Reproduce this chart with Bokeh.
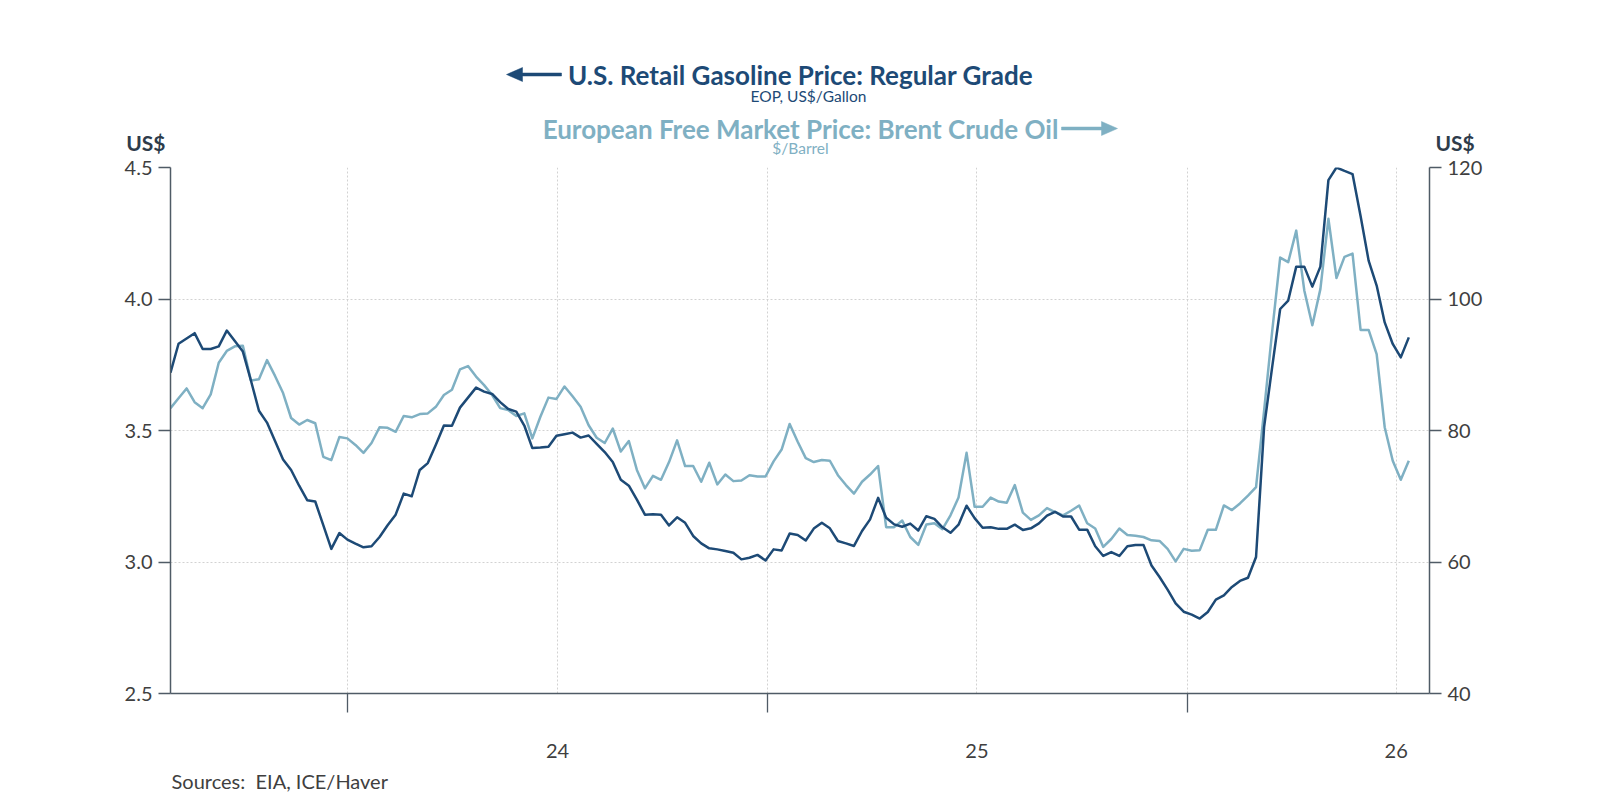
import pandas as pd
from bokeh.plotting import figure
from bokeh.layouts import column
from bokeh.models import (Range1d, LinearAxis, FixedTicker,
                          PrintfTickFormatter, CustomJSTickFormatter)
from bokeh.core.properties import value
from bokeh.embed import file_html
from bokeh.resources import INLINE

# Weekly observations, first week beginning 2023-07-31
first_week = "2023-07-31"

# U.S. retail gasoline price, regular grade (EOP, US$/gallon)
gasoline = [
    3.72, 3.83, 3.85, 3.87, 3.81, 3.81, 3.82, 3.88, 3.84, 3.80,
    3.69, 3.575, 3.53, 3.46, 3.39, 3.35, 3.29, 3.235, 3.23, 3.14,
    3.05, 3.11, 3.085, 3.07, 3.056, 3.06, 3.095, 3.14, 3.18, 3.26,
    3.25, 3.35, 3.376, 3.446, 3.519, 3.518, 3.587, 3.625, 3.663, 3.648,
    3.639, 3.608, 3.582, 3.572, 3.519, 3.433, 3.435, 3.438, 3.48, 3.486,
    3.492, 3.473, 3.481, 3.449, 3.418, 3.38, 3.313, 3.29, 3.237, 3.18,
    3.182, 3.18, 3.139, 3.17, 3.149, 3.099, 3.071, 3.052, 3.048, 3.042,
    3.035, 3.01, 3.016, 3.027, 3.006, 3.048, 3.044, 3.108, 3.103, 3.082,
    3.127, 3.149, 3.128, 3.08, 3.071, 3.061, 3.118, 3.162, 3.244, 3.168,
    3.143, 3.134, 3.146, 3.12, 3.174, 3.164, 3.132, 3.111, 3.142, 3.214,
    3.167, 3.13, 3.132, 3.126, 3.126, 3.142, 3.122, 3.128, 3.147, 3.176,
    3.191, 3.173, 3.173, 3.123, 3.123, 3.06, 3.023, 3.038, 3.023, 3.06,
    3.065, 3.065, 2.987, 2.943, 2.895, 2.843, 2.811, 2.80, 2.785, 2.81,
    2.857, 2.873, 2.905, 2.928, 2.94, 3.019, 3.513, 3.74, 3.962, 3.994,
    4.123, 4.123, 4.047, 4.123, 4.452, 4.50, 4.487, 4.475, 4.316, 4.146,
    4.051, 3.911, 3.829, 3.778, 3.854,
]

# European free market price, Brent crude oil ($/barrel)
brent = [
    83.4, 84.9, 86.4, 84.3, 83.4, 85.5, 90.3, 92.1, 92.8, 92.9,
    87.6, 87.8, 90.7, 88.3, 85.7, 81.9, 80.9, 81.6, 81.1, 76.0,
    75.5, 79.0, 78.8, 77.8, 76.6, 78.1, 80.5, 80.4, 79.8, 82.2,
    82.0, 82.5, 82.6, 83.6, 85.4, 86.2, 89.3, 89.8, 88.2, 86.9,
    85.4, 83.4, 83.1, 82.2, 82.6, 78.8, 82.1, 85.0, 84.8, 86.7,
    85.2, 83.6, 80.8, 78.9, 78.1, 80.3, 76.8, 78.4, 74.0, 71.2,
    73.1, 72.5, 75.2, 78.5, 74.6, 74.6, 72.2, 75.1, 71.8, 73.3,
    72.3, 72.4, 73.2, 73.0, 73.0, 75.3, 77.1, 81.0, 78.3, 75.8,
    75.2, 75.5, 75.4, 73.2, 71.7, 70.4, 72.2, 73.3, 74.6, 65.3,
    65.3, 66.3, 63.8, 62.6, 65.7, 65.9, 65.0, 67.1, 69.8, 76.6,
    68.4, 68.4, 69.8, 69.2, 69.0, 71.7, 67.5, 66.4, 67.1, 68.2,
    67.6, 67.1, 67.8, 68.6, 65.9, 65.1, 62.3, 63.5, 65.1, 64.1,
    64.0, 63.8, 63.3, 63.2, 62.0, 60.1, 62.0, 61.7, 61.8, 64.9,
    64.9, 68.6, 67.9, 68.9, 70.1, 71.4, 83.0, 95.0, 106.3, 105.6,
    110.4, 101.3, 96.0, 101.5, 112.2, 103.2, 106.4, 106.9, 95.3, 95.3,
    91.6, 80.5, 75.4, 72.5, 75.4,
]

# Axis definitions
year_starts = ["2024-01-01", "2025-01-01", "2026-01-01"]
year_mids = ["2024-07-02", "2025-07-02", "2026-07-02"]
year_labels = ["24", "25", "26"]
gas_ticks = [2.5, 3.0, 3.5, 4.0, 4.5]
brent_ticks = [40, 60, 80, 100, 120]
unit_label = "US$"
x_start, x_end = "2023-07-31", "2026-07-31"

DARK = "#1d4a76"
LIGHT = "#7fb0c3"
AXIS = "#4f5b66"
TICK_TXT = "#3f3f3f"
GRID = "#d2d2d2"
UNIT_TXT = "#2e3c4b"
FONT = "Lato"

W = 1600
LEFT, RIGHT = 170, 171          # side borders shared by all stacked panels
FRAME_TOP, FRAME_BOTTOM = 167, 697
HEADER_H = 155
FOOTER_H = 40
MAIN_H = 800 - HEADER_H - FOOTER_H

dates = pd.date_range(first_week, periods=len(gasoline), freq="7D")


def ms(s):
    return pd.Timestamp(s).value // 10**6


start_ms = [ms(s) for s in year_starts]
mid_ms = [ms(s) for s in year_mids]


def blank_panel(height):
    """Text panel whose data coordinates are pixel offsets from the page's top-left."""
    f = figure(width=W, height=height, x_range=Range1d(LEFT, W - RIGHT),
               y_range=Range1d(height, 0),
               output_backend="svg", toolbar_location=None,
               x_axis_location=None, y_axis_location=None,
               min_border_left=LEFT, min_border_right=RIGHT,
               min_border_top=0, min_border_bottom=0,
               background_fill_color="white", border_fill_color="white")
    f.outline_line_color = None
    f.grid.visible = False
    return f


def put_text(f, cx, cy, text, size, color, bold=False, align="center"):
    f.text(x=[cx], y=[cy], text=[text], text_font=value(FONT),
           text_font_size=value(f"{size}px"), text_color=color,
           text_font_style=value("bold" if bold else "normal"),
           text_align=value(align), text_baseline=value("middle"))


def put_arrow(f, tail, tip, cy, color, head=16, half=7, shaft=1.5):
    # filled outline: straight shaft with a triangular head at the tip
    d = 1 if tip > tail else -1
    base = tip - d * head
    xs = [tip, base, base, tail, tail, base, base]
    ys = [cy, cy - half, cy - shaft, cy - shaft, cy + shaft, cy + shaft, cy + half]
    f.patch(xs, ys, fill_color=color, line_color=color, line_width=0.5)


def unit_caption(f, side, cy, standoff):
    # a bare axis carrying a single label, used for the unit captions over each scale
    ax = LinearAxis(ticker=FixedTicker(ticks=[cy]),
                    formatter=CustomJSTickFormatter(args=dict(unit=unit_label),
                                                    code="return unit;"))
    ax.axis_line_color = None
    ax.major_tick_line_color = None
    ax.minor_tick_line_color = None
    ax.major_tick_out = 0
    ax.major_tick_in = 0
    ax.major_label_standoff = standoff
    ax.major_label_text_font = FONT
    ax.major_label_text_font_size = "21px"
    ax.major_label_text_font_style = "bold"
    ax.major_label_text_color = UNIT_TXT
    f.add_layout(ax, side)


# ---- header: series titles, units and axis unit captions ----
header = blank_panel(HEADER_H)
put_arrow(header, 561, 506, 74, DARK)
put_text(header, 800, 74, "U.S. Retail Gasoline Price: Regular Grade", 26, DARK, bold=True)
put_text(header, 808, 95, "EOP, US$/Gallon", 15.5, DARK)
put_text(header, 800, 128, "European Free Market Price: Brent Crude Oil", 26, LIGHT, bold=True)
put_arrow(header, 1061, 1117, 128, LIGHT)
put_text(header, 800, 147, "$/Barrel", 15.5, LIGHT)
unit_caption(header, "left", 143, 5)
unit_caption(header, "right", 143, 6)

# ---- main chart ----
p = figure(width=W, height=MAIN_H, x_axis_type="datetime",
           x_range=Range1d(pd.Timestamp(x_start), pd.Timestamp(x_end)),
           y_range=Range1d(gas_ticks[0], gas_ticks[-1]),
           output_backend="svg", toolbar_location=None,
           min_border_left=LEFT, min_border_right=RIGHT,
           min_border_top=FRAME_TOP - HEADER_H,
           min_border_bottom=MAIN_H - (FRAME_BOTTOM - HEADER_H),
           background_fill_color="white", border_fill_color="white")
p.outline_line_color = None
p.extra_y_ranges = {"brent": Range1d(brent_ticks[0], brent_ticks[-1])}

# Lines: Brent underneath, gasoline on top
p.line(dates, brent, y_range_name="brent", line_color=LIGHT, line_width=2.5, line_join="round")
p.line(dates, gasoline, line_color=DARK, line_width=2.5, line_join="round")

# Grids
p.xgrid.ticker = FixedTicker(ticks=sorted(start_ms + mid_ms))
p.ygrid.ticker = FixedTicker(ticks=gas_ticks)
for g in (p.xgrid, p.ygrid):
    g.grid_line_color = GRID
    g.grid_line_dash = "2 2"
    g.grid_line_width = 1

# Bottom axis: tick marks at year boundaries, labels centred in each year
xa = p.xaxis[0]
xa.ticker = FixedTicker(ticks=mid_ms, minor_ticks=start_ms)
xa.formatter = CustomJSTickFormatter(
    args=dict(mids=mid_ms, names=year_labels),
    code="const i = mids.indexOf(tick); return i >= 0 ? names[i] : '';")
xa.major_tick_out = 0
xa.major_tick_in = 0
xa.minor_tick_out = 19
xa.minor_tick_in = 0
xa.minor_tick_line_color = AXIS
xa.minor_tick_line_width = 1.3
xa.major_label_standoff = 31

# Left axis (gasoline)
ya = p.yaxis[0]
ya.ticker = FixedTicker(ticks=gas_ticks)
ya.formatter = PrintfTickFormatter(format="%.1f")

# Right axis (Brent)
ra = LinearAxis(y_range_name="brent", ticker=FixedTicker(ticks=brent_ticks),
                formatter=PrintfTickFormatter(format="%d"))
p.add_layout(ra, "right")

for ax in (ya, ra):
    ax.major_tick_out = 12
    ax.major_tick_in = 0
    ax.minor_tick_line_color = None
    ax.major_tick_line_color = AXIS
    ax.major_tick_line_width = 1.3
    ax.major_label_standoff = 6

for ax in (xa, ya, ra):
    ax.axis_line_color = AXIS
    ax.axis_line_width = 1.5
    ax.major_label_text_font = FONT
    ax.major_label_text_font_size = "20px"
    ax.major_label_text_color = TICK_TXT

# ---- footer: source note ----
footer = blank_panel(FOOTER_H)
put_text(footer, LEFT + 1, 20, "Sources:\u00a0 EIA, ICE/Haver", 20, TICK_TXT, align="left")

layout = column(header, p, footer, spacing=0)

with open("out.html", "w") as f:
    f.write(file_html(layout, INLINE))
